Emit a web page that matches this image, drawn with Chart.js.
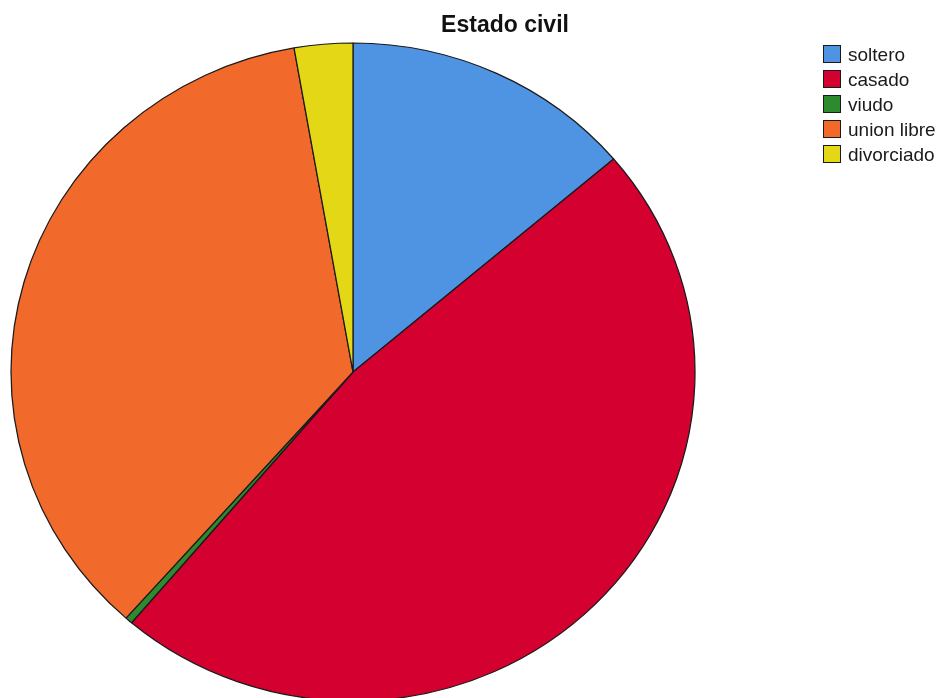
<!DOCTYPE html>
<html>
<head>
<meta charset="utf-8">
<script src="https://cdn.jsdelivr.net/npm/chart.js@4"></script>
<style>
  html, body { margin: 0; padding: 0; background: #ffffff; }
  #wrap { position: relative; width: 938px; height: 698px; overflow: hidden; background: #ffffff; }
  #c { position: absolute; left: 0; top: 0; }
  #title { position: absolute; left: 505px; top: 13px; transform: translateX(-50%);
           font-family: "Liberation Sans", Arial, sans-serif; font-weight: bold; font-size: 23px;
           line-height: 23px; color: #111; white-space: nowrap; }
  .row { position: absolute; left: 823px; height: 18px; }
  .box { position: absolute; left: 0; top: 0; width: 16px; height: 16px; border: 1.5px solid #1a1a1a; box-sizing: content-box; }
  .lbl { position: absolute; left: 25px; top: 1px; font-family: "Liberation Sans", Arial, sans-serif;
         font-size: 19px; line-height: 18px; color: #1a1a1a; white-space: nowrap; }
</style>
</head>
<body>
<div id="wrap">
  <canvas id="c" width="938" height="698"></canvas>
  <div id="title"></div>
  <div id="legend"></div>
</div>
<script>
const chartTitle = "Estado civil";
const categories = ["soltero", "casado", "viudo", "union libre", "divorciado"];
const counts = [80, 275, 2, 207, 16];
const colors = ["#4F93E3", "#D4002F", "#2E8A2E", "#F1692B", "#E4D716"];

document.getElementById('title').textContent = chartTitle;
const legend = document.getElementById('legend');
categories.forEach((name, i) => {
  const row = document.createElement('div');
  row.className = 'row';
  row.style.top = (45 + i * 25) + 'px';
  const box = document.createElement('div');
  box.className = 'box';
  box.style.background = colors[i];
  const lbl = document.createElement('div');
  lbl.className = 'lbl';
  lbl.textContent = name;
  row.appendChild(box);
  row.appendChild(lbl);
  legend.appendChild(row);
});

// The reference pie is slightly wider than tall
const RX = 342, RY = 329;
const stretch = {
  id: 'stretch',
  beforeDatasetsDraw(chart) {
    const a = chart.chartArea;
    const cx = (a.left + a.right) / 2, cy = (a.top + a.bottom) / 2;
    const ctx = chart.ctx;
    ctx.save();
    ctx.translate(cx, cy);
    ctx.scale(RX / RY, 1);
    ctx.translate(-cx, -cy);
  },
  afterDatasetsDraw(chart) {
    chart.ctx.restore();
  }
};

new Chart(document.getElementById('c'), {
  type: 'pie',
  data: {
    labels: categories,
    datasets: [{
      data: counts,
      backgroundColor: colors,
      borderColor: '#1a1a1a',
      borderWidth: 1.2,
      clip: false
    }]
  },
  options: {
    responsive: false,
    animation: false,
    events: [],
    radius: RY,
    layout: { padding: { left: 0, right: 232, top: 46, bottom: 0 } },
    plugins: {
      legend: { display: false },
      title: { display: false },
      tooltip: { enabled: false }
    }
  },
  plugins: [stretch]
});
</script>
</body>
</html>
